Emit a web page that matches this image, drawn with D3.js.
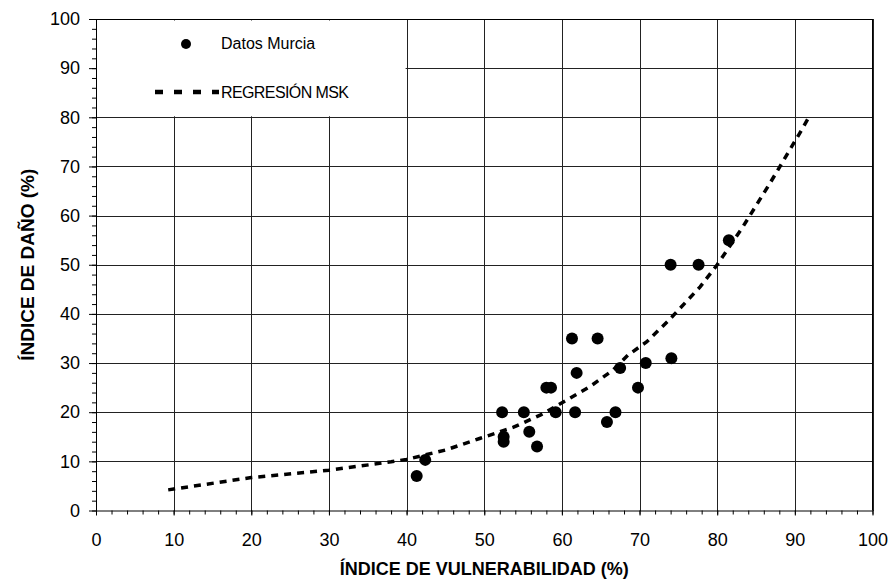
<!DOCTYPE html>
<html>
<head>
<meta charset="utf-8" />
<title>Indice de dano</title>
<script src="https://d3js.org/d3.v7.min.js"></script>
<style>
body { margin: 0; background: #fff; }
text { font-family: Arial, "Liberation Sans", sans-serif; fill: #000; }
.axis path { stroke: #000; }
.axis line { stroke: #000; }
.grid line { stroke: #222; stroke-width: 1; shape-rendering: crispEdges; }
</style>
</head>
<body>
<div id="viz"></div>
<script>

// datos
var vulnerabilidad = [41.3, 42.4, 52.3, 52.5, 52.5, 55.1, 55.8, 56.8, 58.0, 58.6, 59.2, 61.3,
                      61.9, 61.7, 64.6, 67.5, 66.9, 65.8, 69.8, 70.8, 74.1, 74.0, 77.6, 81.5];
var dano = [7, 10.3, 20, 15, 14, 20, 16, 13, 25, 25, 20, 35,
            28, 20, 35, 29, 20, 18, 25, 30, 31, 50, 50, 55];

// curva de regresion MSK
var regX = [9.3, 20, 30, 38, 40, 45, 49.5, 53.7, 57.2, 61, 63.6, 66.6, 68.5, 70.9, 73.7, 77.8, 80, 83.3, 86.8, 90.6, 91.8];
var regY = [4.2, 6.7, 8.2, 9.9, 10.4, 12.3, 14.7, 16.9, 19.4, 22.8, 25.2, 28.6, 31.6, 34.3, 38.6, 45.5, 50, 57.7, 66.6, 76.7, 80];

var majorTicks = [0, 10, 20, 30, 40, 50, 60, 70, 80, 90, 100];
var minorTicks = d3.range(0, 101, 2);
var legendLabels = ["Datos Murcia", "REGRESIÓN MSK"];

var W = 890, H = 583;
var margin = {top: 19, right: 17.5, bottom: 72.5, left: 96};
var width = W - margin.left - margin.right,
    height = H - margin.top - margin.bottom;

var svg = d3.select("#viz").append("svg")
    .attr("width", W)
    .attr("height", H);

var g = svg.append("g")
    .attr("transform", "translate(" + margin.left + "," + margin.top + ")");

var x = d3.scaleLinear().domain([0, 100]).range([0, width]),
    y = d3.scaleLinear().domain([0, 100]).range([height, 0]);

// rejilla
var grid = g.append("g").attr("class", "grid");
grid.selectAll(".v").data(majorTicks.slice(1))
  .enter().append("line")
    .attr("x1", function(d) { return Math.round(x(d)) + 0.5; })
    .attr("x2", function(d) { return Math.round(x(d)) + 0.5; })
    .attr("y1", 0).attr("y2", height);
grid.selectAll(".h").data(majorTicks.slice(1))
  .enter().append("line")
    .attr("y1", function(d) { return Math.round(y(d)) + 0.5; })
    .attr("y2", function(d) { return Math.round(y(d)) + 0.5; })
    .attr("x1", 0).attr("x2", width);

// caja de la leyenda tapa la rejilla
g.append("rect")
    .attr("x", x(0) + 1)
    .attr("y", y(100) + 1.5)
    .attr("width", x(40) - x(0) - 2)
    .attr("height", y(80) - y(100) - 2.5)
    .attr("fill", "#fff");

// ejes
g.append("g")
    .attr("class", "axis")
    .attr("transform", "translate(0," + height + ")")
    .call(d3.axisBottom(x).tickValues(minorTicks).tickSize(4).tickFormat(""))
    .call(function(s) { s.select(".domain").remove(); });
g.append("g")
    .attr("class", "axis")
    .attr("transform", "translate(0," + height + ")")
    .call(d3.axisBottom(x).tickValues(majorTicks).tickSize(5).tickPadding(18)
          .tickFormat(d3.format("d")).tickSizeOuter(0))
    .call(function(s) {
      s.selectAll("text").style("font-size", "18px").attr("dy", "0.32em").attr("y", 30);
    });

g.append("g")
    .attr("class", "axis")
    .call(d3.axisLeft(y).tickValues(minorTicks).tickSize(4).tickFormat(""))
    .call(function(s) { s.select(".domain").remove(); });
g.append("g")
    .attr("class", "axis")
    .call(d3.axisLeft(y).tickValues(majorTicks).tickSize(7).tickPadding(9)
          .tickFormat(d3.format("d")).tickSizeOuter(0))
    .call(function(s) { s.selectAll("text").style("font-size", "18px"); });

// marco superior y derecho
g.append("line").attr("x1", 0).attr("x2", width).attr("y1", 0.5).attr("y2", 0.5).attr("stroke", "#000");
g.append("line").attr("x1", width).attr("x2", width).attr("y1", 0).attr("y2", height).attr("stroke", "#000");

// regresion
var line = d3.line()
    .x(function(d, i) { return x(regX[i]); })
    .y(function(d, i) { return y(regY[i]); });
g.append("path")
    .datum(regX)
    .attr("d", line)
    .attr("fill", "none")
    .attr("stroke", "#000")
    .attr("stroke-width", 3.5)
    .attr("stroke-dasharray", "7,6");

// puntos
g.selectAll(".dot")
    .data(vulnerabilidad)
  .enter().append("circle")
    .attr("class", "dot")
    .attr("cx", function(d) { return x(d); })
    .attr("cy", function(d, i) { return y(dano[i]); })
    .attr("r", 6)
    .attr("fill", "#000");

// leyenda
var leg = svg.append("g");
leg.append("circle").attr("cx", 186).attr("cy", 44).attr("r", 5).attr("fill", "#000");
leg.append("text").attr("x", 221).attr("y", 43).attr("dy", "0.35em")
    .style("font-size", "16px").text(legendLabels[0]);
leg.append("line").attr("x1", 155).attr("x2", 219).attr("y1", 92).attr("y2", 92)
    .attr("stroke", "#000").attr("stroke-width", 4.5).attr("stroke-dasharray", "8,11");
leg.append("text").attr("x", 221).attr("y", 92).attr("dy", "0.35em")
    .style("font-size", "16px").style("letter-spacing", "-0.6px").text(legendLabels[1]);

// titulos
svg.append("text")
    .attr("x", margin.left + width / 2)
    .attr("y", 575)
    .attr("text-anchor", "middle")
    .style("font-size", "18px").style("font-weight", "bold")
    .text("ÍNDICE DE VULNERABILIDAD (%)");
svg.append("text")
    .attr("transform", "translate(34," + (margin.top + height / 2) + ") rotate(-90)")
    .attr("text-anchor", "middle")
    .style("font-size", "19px").style("font-weight", "bold")
    .text("ÍNDICE DE DAÑO (%)");

</script>
</body>
</html>
